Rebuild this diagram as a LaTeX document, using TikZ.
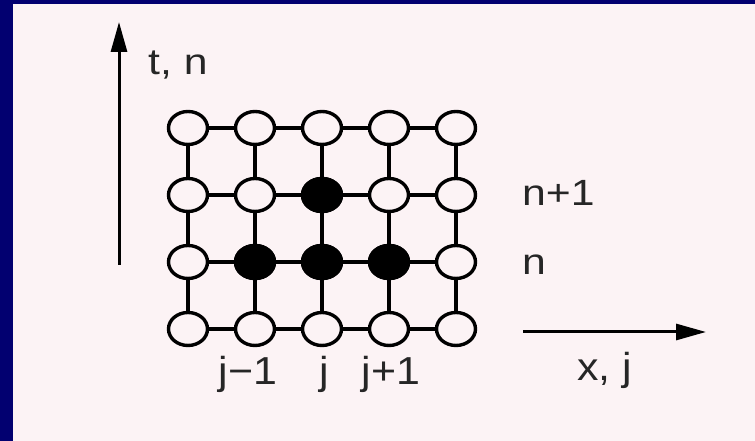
\documentclass[tikz,border=0pt]{standalone}
\usepackage{fontspec}
\setmainfont{Liberation Sans}
\usetikzlibrary{shapes.geometric,arrows.meta}
\definecolor{navyframe}{RGB}{2,0,112}
\definecolor{paper}{RGB}{252,243,245}
\tikzset{
  gridpt/.style={ellipse, draw=black, line width=3.4pt, minimum width=39pt, minimum height=33pt, inner sep=0pt, fill=paper},
  solidpt/.style={gridpt, fill=black},
  link/.style={line width=3.4pt, black},
  axis/.style={line width=3pt, black, -{Triangle[length=30pt,width=16pt]}},
  lbl/.style={inner sep=0pt, font=\fontsize{36.5}{40}\selectfont, text=black!85},
  biglbl/.style={lbl, font=\fontsize{39}{44}\selectfont}
}
\begin{document}
\begin{tikzpicture}[x=1pt,y=1pt]
\useasboundingbox (0,0) rectangle (755,441);
\fill[paper] (0,0) rectangle (755,441);
\fill[navyframe] (0,0) rectangle (13,441);
\fill[navyframe] (0,437) rectangle (755,441);
% grid nodes: columns 1..5, rows 1 (bottom) .. 4 (top)
\foreach \c/\x in {1/188,2/255,3/322,4/389,5/456}{
  \foreach \r/\y in {1/112,2/179,3/246,4/313}{
    \node[gridpt] (p\c\r) at (\x,\y) {};
  }
}
\node[solidpt] at (p22) {};
\node[solidpt] at (p32) {};
\node[solidpt] at (p42) {};
\node[solidpt] at (p33) {};
% connectors
\foreach \r in {1,2,3,4}{
  \foreach \c/\d in {1/2,2/3,3/4,4/5}{
    \draw[link] (p\c\r) -- (p\d\r);
  }
}
\foreach \c in {1,2,3,4,5}{
  \foreach \r/\s in {1/2,2/3,3/4}{
    \draw[link] (p\c\r) -- (p\c\s);
  }
}
% axes
\coordinate (tb) at (119,176);
\coordinate (tt) at (119,419);
\coordinate (xl) at (523,109);
\coordinate (xr) at (706,109);
\draw[axis] (tb) -- (tt);
\draw[axis] (xl) -- (xr);
% labels
\node[lbl, anchor=base west] (ltn) at (148,366) {\scalebox{1.17}[1]{t, n}};
\node[lbl, anchor=base west] (lnp) at (522,235) {\scalebox{1.17}[1]{n+1}};
\node[lbl, anchor=base west] (ln) at (522,166) {\scalebox{1.17}[1]{n}};
\node[biglbl, anchor=base west] (lxj) at (577,60) {\scalebox{1.1}[1]{x, j}};
\node[biglbl, anchor=base] (ljm) at (248,56) {\scalebox{1.1}[1]{j−1}};
\node[biglbl, anchor=base] (lj) at (324,56) {\scalebox{1.1}[1]{j}};
\node[biglbl, anchor=base] (ljp) at (391,56) {\scalebox{1.1}[1]{j+1}};
\end{tikzpicture}
\end{document}
